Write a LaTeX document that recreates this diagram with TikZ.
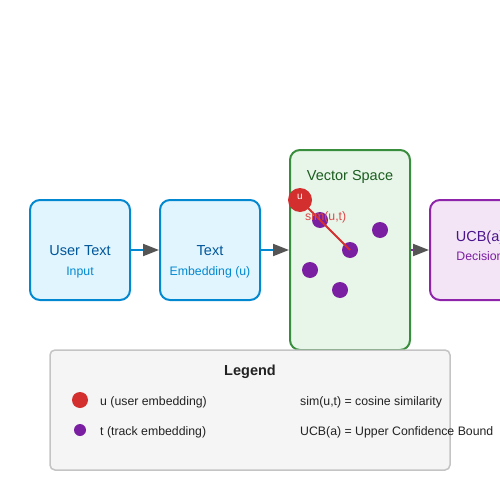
\documentclass[tikz,border=0pt]{standalone}
\usepackage{fontspec}
\setmainfont{Liberation Sans}
\usetikzlibrary{arrows.meta}
\definecolor{bluestroke}{HTML}{0288D1}
\definecolor{bluefill}{HTML}{E1F5FE}
\definecolor{bluedark}{HTML}{01579B}
\definecolor{greenstroke}{HTML}{388E3C}
\definecolor{greenfill}{HTML}{E8F5E9}
\definecolor{greendark}{HTML}{1B5E20}
\definecolor{purplestroke}{HTML}{8E24AA}
\definecolor{purplefill}{HTML}{F3E5F5}
\definecolor{purpledark}{HTML}{4A148C}
\definecolor{purpledot}{HTML}{7B1FA2}
\definecolor{reddot}{HTML}{D32F2F}
\definecolor{simred}{HTML}{E04848}
\definecolor{headgray}{HTML}{555555}
\definecolor{legfill}{HTML}{F5F5F5}
\definecolor{legstroke}{HTML}{C4C4C4}
\definecolor{legtext}{HTML}{222222}
\tikzset{
  box/.style={draw, line width=2pt, rounded corners=10pt, inner sep=0pt, minimum width=100pt, minimum height=100pt},
  flow/.style={line width=2pt, -{Triangle[length=16pt,width=12pt,color=headgray,fill=headgray]}},
  tdot/.style={circle, fill=purpledot, inner sep=0pt, minimum size=16pt},
  title/.style={anchor=base, font=\fontsize{14.5}{16}\selectfont},
  sub/.style={anchor=base, font=\fontsize{12.3}{14}\selectfont},
  legtxt/.style={anchor=base west, inner sep=0pt, font=\fontsize{12.3}{14}\selectfont, text=legtext}
}
\begin{document}
\begin{tikzpicture}[x=1pt,y=-1pt]
\useasboundingbox (0,0) rectangle (500,500);
% boxes
\node[box, draw=bluestroke, fill=bluefill] (b1) at (80,250) {};
\node[box, draw=bluestroke, fill=bluefill] (b2) at (210,250) {};
\node[box, draw=greenstroke, fill=greenfill, minimum width=120pt, minimum height=200pt] (vs) at (350,250) {};
\node[box, draw=purplestroke, fill=purplefill] (ucb) at (480,250) {};
% labels
\node[title, text=bluedark] (t1) at (80,255) {User Text};
\node[sub, text=bluestroke] (s1) at (80,275) {Input};
\node[title, text=bluedark] (t2) at (210,255) {Text};
\node[sub, text=bluestroke] (s2) at (210,275) {Embedding (u)};
\node[title, text=greendark] (t3) at (350,180) {Vector Space};
\node[title, text=purpledark] (t4) at (480,241) {UCB(a)};
\node[sub, text=purpledot] (s4) at (480,260) {Decision};
% arrows
\draw[flow, draw=bluestroke] (b1.east) -- (b2.west);
\draw[flow, draw=bluestroke] (b2.east) -- (vs.west);
\draw[flow, draw=purplestroke] (vs.east) -- (ucb.west);
% dots
\node[tdot] (d1) at (320,220) {};
\node[tdot] (d2) at (380,230) {};
\node[tdot] (d3) at (350,250) {};
\node[tdot] (d4) at (310,270) {};
\node[tdot] (d5) at (340,290) {};
\coordinate (uc) at (300,200);
\draw[reddot, line width=2pt] (uc) -- (d3.center);
\node[circle, fill=reddot, inner sep=0pt, minimum size=24pt] (u) at (uc) {};
\node[anchor=base, text=white, inner sep=0pt, font=\fontsize{10}{12}\selectfont] (ul) at (300,199) {u};
\node[anchor=base west, inner sep=0pt, text=simred, font=\fontsize{12.3}{14}\selectfont] (sim) at (305,220) {sim(u,t)};
% legend
\node[draw=legstroke, fill=legfill, line width=1.5pt, rounded corners=5pt, inner sep=0pt, minimum width=400pt, minimum height=120pt] (leg) at (250,410) {};
\node[anchor=base, text=legtext, font=\bfseries\fontsize{14.5}{16}\selectfont] (legt) at (250,375) {Legend};
\node[circle, fill=reddot, inner sep=0pt, minimum size=16pt] (lu) at (80,400) {};
\node[tdot, minimum size=12pt] (lt) at (80,430) {};
\node[legtxt] (lut) at (100,405) {u (user embedding)};
\node[legtxt] (ltt) at (100,435) {t (track embedding)};
\node[legtxt] (lsim) at (300,405) {sim(u,t) = cosine similarity};
\node[legtxt] (lucb) at (300,435) {UCB(a) = Upper Confidence Bound};
\end{tikzpicture}
\end{document}
